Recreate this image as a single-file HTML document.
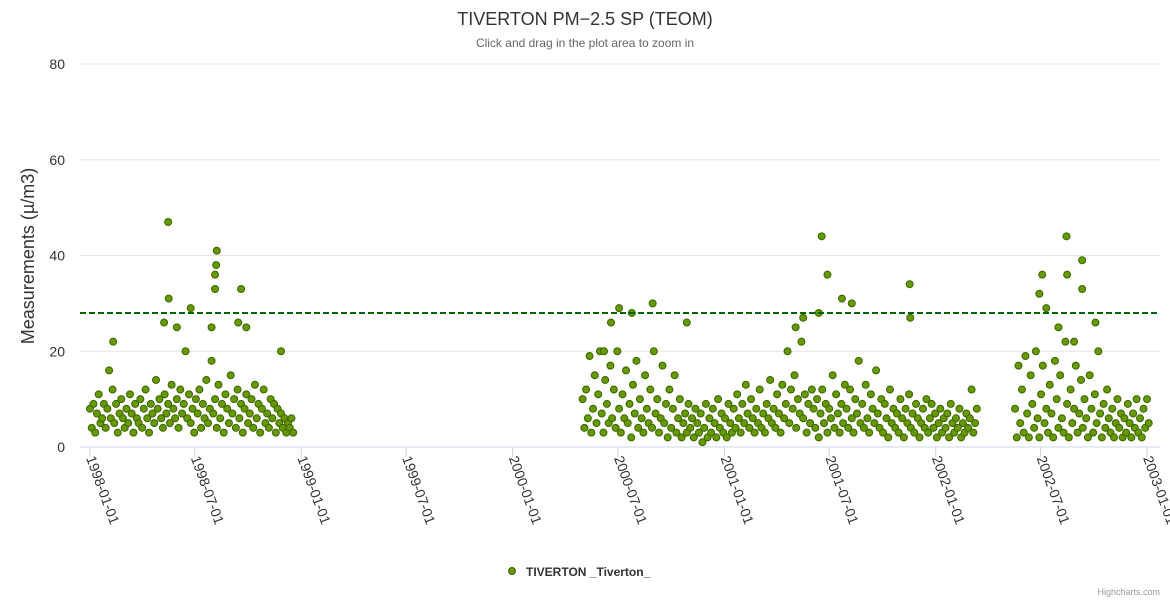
<!DOCTYPE html>
<html><head><meta charset="utf-8"><style>
html,body{margin:0;padding:0;background:#fff;}
svg{display:block;font-family:"Liberation Sans","DejaVu Sans",sans-serif;}
</style></head><body>
<svg id="chart" width="1170" height="600" viewBox="0 0 1170 600">
<rect x="0" y="0" width="1170" height="600" fill="#fff"/>
<text x="585" y="25" text-anchor="middle" font-size="18" fill="#333">TIVERTON PM−2.5 SP (TEOM)</text>
<text x="585" y="47" text-anchor="middle" font-size="12" fill="#666">Click and drag in the plot area to zoom in</text>
<g id="grid"></g>
<g id="xaxis"></g>
<text transform="translate(34,256) rotate(-90)" text-anchor="middle" font-size="18" fill="#333">Measurements (µ/m3)</text>
<g id="points"></g>
<g id="threshold"></g>
<g>
<circle cx="512" cy="571" r="3.5" fill="#669900" stroke="#3d6600" stroke-width="1"/>
<text x="526" y="576" font-size="12" font-weight="bold" fill="#333">TIVERTON _Tiverton_</text>
</g>
<text x="1160" y="595" text-anchor="end" font-size="9" fill="#999">Highcharts.com</text>
</svg>
<script>
const yTicks=[0,20,40,60,80];
const xTickLabels=["1998-01-01","1998-07-01","1999-01-01","1999-07-01","2000-01-01","2000-07-01","2001-01-01","2001-07-01","2002-01-01","2002-07-01","2003-01-01"];
const threshold=28;
const segStartDays=[0,851,1598];
const segStep=3;
const seg1Vals=[8,4,9,3,7,11,5,6,9,4,8,16,6,12,5,9,3,7,10,6,4,8,5,11,7,3,9,6,5,10,4,8,12,6,3,9,7,5,14,8,10,6,4,11,7,9,5,13,8,6,10,4,12,7,9,20,6,11,5,8,3,10,7,12,4,9,6,14,5,8,18,7,10,4,13,6,9,3,11,8,5,15,7,10,4,12,6,9,3,8,11,5,7,10,4,13,6,9,3,8,12,5,7,4,10,6,9,3,8,5,7,4,6,3,5,4,6,3];
const seg2Vals=[10,4,12,6,19,3,8,15,5,11,20,7,3,14,9,5,17,6,12,4,20,8,3,11,6,16,5,9,2,13,7,18,4,10,6,3,15,8,5,12,4,20,7,10,3,6,17,5,9,2,12,4,8,15,3,6,10,2,5,7,3,9,4,6,2,8,5,3,7,1,4,9,2,6,3,8,5,2,10,4,7,3,6,2,9,5,3,8,4,11,6,3,9,5,13,7,4,10,6,3,8,5,12,4,7,3,9,6,14,5,8,4,11,7,3,13,6,9,20,5,12,8,15,4,10,7,22,6,11,3,9,5,12,8,4,10,2,7,12,5,9,3,8,6,15,4,11,7,3,9,5,13,8,4,12,6,3,10,7,18,5,9,4,13,6,3,11,8,5,16,7,4,10,3,9,6,2,12,5,8,4,7,3,10,6,2,8,5,11,4,7,3,9,6,2,5,8,4,10,3,6,9,4,7,2,5,8,3,6,4,7,2,9,5,3,6,4,8,2,5,3,7,4,6,12,3,5,8];
const seg3Vals=[8,2,17,5,12,3,19,7,2,15,9,4,20,6,2,11,17,5,8,3,13,7,2,18,10,4,15,6,3,22,9,2,12,5,8,17,3,7,14,4,10,6,2,15,8,3,11,5,20,7,2,9,4,12,6,3,8,2,5,10,4,7,2,6,3,9,5,2,7,4,10,3,6,2,8,4,10,5];
const extraDays=[40,135,136,128,174,150,210,219,218,216,216,261,256,270,330,900,914,936,972,888,1031,1264,1274,1299,1316,1259,1232,1219,1416,1417,1687,1714,1645,1688,1714,1640,1652,1737,1673,1700];
const extraVals=[22,47,31,26,29,25,25,41,38,36,33,33,26,25,20,26,29,28,30,20,26,44,36,31,30,28,27,25,34,27,44,39,36,36,33,32,29,26,25,22];

const NS="http://www.w3.org/2000/svg";
const x0=90,pxPerDay=(1147-90)/1826,yBase=447,pxPerUnit=(447-64)/80;
const xs=d=>x0+d*pxPerDay, ys=v=>yBase-v*pxPerUnit;
function mk(tag,attrs,parent){const e=document.createElementNS(NS,tag);for(const k in attrs)e.setAttribute(k,attrs[k]);parent.appendChild(e);return e;}
const grid=document.getElementById('grid');
yTicks.forEach(t=>{
  const l=mk('line',{x1:80,x2:1160,y1:ys(t),y2:ys(t),stroke:t===0?'#ccd6eb':'#e6e6e6','stroke-width':1},grid);
  
  
  const tx=mk('text',{x:65,y:ys(t)+5,'text-anchor':'end','font-size':14,fill:'#333'},grid);
  tx.textContent=t;
  
  
});
const xa=document.getElementById('xaxis');
const base=Date.UTC(1998,0,1);
xTickLabels.forEach(s=>{
  const p=s.split('-');const d=(Date.UTC(+p[0],+p[1]-1,+p[2])-base)/86400000;const x=xs(d);
  const tk=mk('line',{x1:x,x2:x,y1:447,y2:457,stroke:'#ccd6eb'},xa);
  
  
  const t=mk('text',{transform:`translate(${x-4},${458}) rotate(70)`,'font-size':14,fill:'#333'},xa);
  t.textContent=s;
  
  
});
const pts=document.getElementById('points');
function dot(d,v){
  const c=mk('circle',{cx:xs(d),cy:ys(v),r:3.5,fill:'#669900',stroke:'#3d6600','stroke-width':1},pts);
  
  
}
[seg1Vals,seg2Vals,seg3Vals].forEach((arr,si)=>arr.forEach((v,i)=>dot(segStartDays[si]+i*segStep,v)));
extraDays.forEach((d,i)=>dot(d,extraVals[i]));
const th=mk('line',{x1:80,x2:1160,y1:ys(threshold),y2:ys(threshold),stroke:'#006400','stroke-width':2,'stroke-dasharray':'6,3'},document.getElementById('threshold'));


</script>
</body></html>
